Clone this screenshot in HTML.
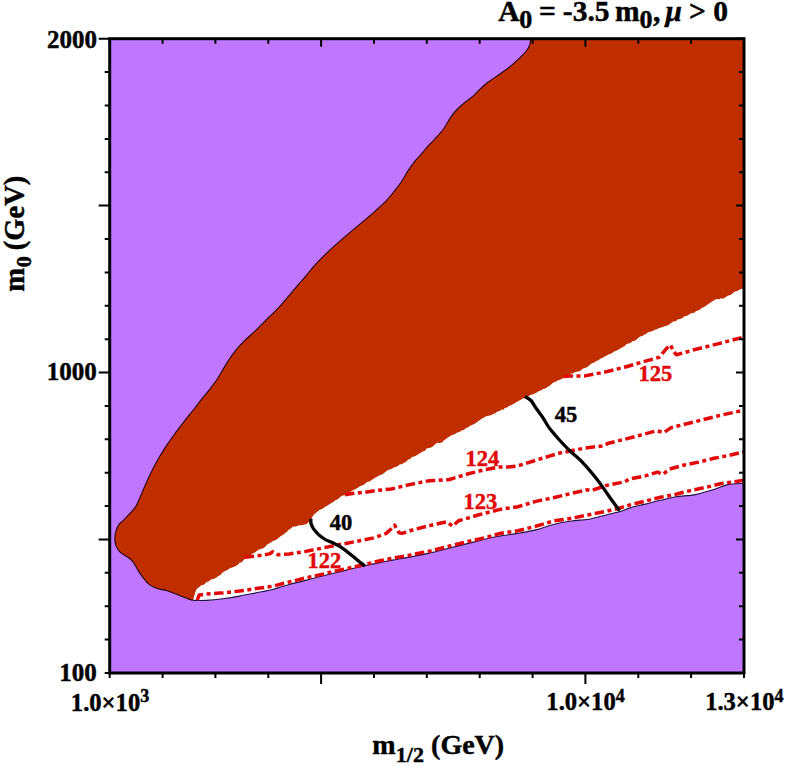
<!DOCTYPE html>
<html><head><meta charset="utf-8"><style>
html,body{margin:0;padding:0;background:#fff;}
svg{display:block;}
text{font-family:"Liberation Serif",serif;font-weight:bold;font-kerning:none;stroke:#000;stroke-width:0.45px;}
</style></head><body>
<svg width="786" height="766" viewBox="0 0 786 766">
<rect x="109.7" y="38.7" width="634.3" height="634.3" fill="#C077FF"/>
<path d="M530.6,38.5C530.5,39.6 530.5,42.8 529.7,45.0C528.9,47.2 527.8,49.2 526.0,51.5C524.2,53.8 521.4,56.2 518.7,58.8C516.0,61.4 513.2,64.1 509.6,67.0C506.0,69.9 500.5,73.5 496.8,76.1C493.1,78.7 490.4,80.4 487.6,82.5C484.9,84.6 482.7,86.6 480.3,88.9C477.9,91.2 475.4,94.1 473.0,96.2C470.6,98.3 468.3,99.6 465.7,101.7C463.1,103.8 459.8,106.7 457.5,109.0C455.2,111.3 453.7,113.1 452.0,115.4C450.3,117.7 448.9,120.3 447.4,122.7C445.9,125.1 445.0,127.2 442.8,130.0C440.6,132.8 437.0,136.5 434.3,139.5C431.6,142.5 428.9,145.1 426.5,147.8C424.1,150.5 422.0,153.3 420.0,155.6C418.0,157.9 416.6,159.0 414.6,161.6C412.6,164.2 409.8,168.0 407.8,171.1C405.8,174.2 404.5,177.0 402.4,180.2C400.3,183.4 397.8,186.8 395.0,190.3C392.2,193.8 389.2,197.7 385.9,201.2C382.5,204.7 378.9,207.8 374.9,211.3C370.9,214.8 366.1,219.0 362.1,222.3C358.2,225.7 355.1,228.1 351.2,231.4C347.2,234.8 342.4,238.9 338.4,242.4C334.4,245.9 331.0,248.9 327.4,252.4C323.8,255.9 319.6,260.1 316.5,263.4C313.4,266.7 311.5,269.1 309.0,272.0C306.5,274.9 304.6,277.4 301.5,281.0C298.4,284.6 294.1,289.5 290.5,293.8C286.9,298.1 283.2,302.7 279.6,306.6C276.0,310.6 272.6,313.6 268.6,317.5C264.6,321.4 259.8,326.5 255.8,330.3C251.8,334.1 248.2,337.0 244.8,340.4C241.5,343.8 238.4,347.0 235.7,350.4C233.0,353.8 230.5,357.3 228.4,360.5C226.3,363.7 224.7,366.6 222.9,369.6C221.1,372.7 219.5,375.6 217.4,378.8C215.3,382.0 212.8,385.3 210.1,388.8C207.4,392.3 203.6,396.5 201.0,399.8C198.4,403.1 197.0,405.3 194.5,408.5C192.0,411.7 188.8,415.4 185.9,419.2C183.0,423.0 179.9,427.0 176.8,431.1C173.8,435.2 170.7,439.3 167.6,443.9C164.5,448.5 161.2,453.8 158.5,458.5C155.8,463.2 153.3,467.9 151.2,472.2C149.1,476.5 147.5,480.0 145.7,484.1C143.9,488.2 141.9,493.1 140.2,496.9C138.5,500.7 137.4,504.0 135.6,506.9C133.8,509.8 131.2,512.0 129.2,514.2C127.2,516.4 125.1,518.7 123.5,520.3C121.9,521.9 120.6,522.2 119.4,523.9C118.2,525.6 116.9,528.0 116.1,530.4C115.3,532.8 114.8,535.7 114.8,538.3C114.8,540.9 115.1,543.7 116.1,546.1C117.1,548.5 118.8,550.8 120.7,552.6C122.7,554.5 125.7,555.7 127.8,557.2C129.9,558.7 131.5,559.7 133.1,561.8C134.7,563.9 136.0,567.0 137.6,569.6C139.2,572.2 140.9,574.9 142.9,577.4C144.9,579.9 147.0,582.8 149.4,584.6C151.8,586.5 154.4,587.5 157.2,588.5C160.0,589.5 163.3,589.6 166.4,590.5C169.5,591.4 172.7,592.7 175.5,593.8C178.3,594.9 180.9,596.0 183.3,597.0C185.7,598.0 188.2,599.1 189.9,599.6C191.6,600.1 192.7,600.2 193.3,600.3C193.9,600.3 194.4,600.5 196.6,600.5C198.8,600.5 202.1,600.7 206.5,600.4C210.9,600.1 217.6,599.4 223.1,598.7C228.6,598.0 234.1,597.1 239.6,596.1C245.1,595.1 250.7,593.9 256.2,592.8C261.7,591.7 267.2,590.9 272.7,589.5C278.2,588.1 283.7,586.0 289.2,584.5C294.7,583.0 300.2,581.8 305.8,580.4C311.4,579.0 317.8,577.3 322.7,576.0C327.6,574.7 331.1,573.9 335.4,572.8C339.6,571.7 343.3,570.8 348.2,569.6C353.1,568.4 359.4,567.0 364.7,565.8C370.0,564.6 375.3,563.5 380.0,562.6C384.7,561.7 387.8,561.0 392.7,560.1C397.6,559.2 403.5,558.3 409.6,557.1C415.7,555.9 422.7,554.6 429.2,553.1C435.7,551.6 442.2,549.9 448.7,548.3C455.2,546.7 461.8,545.0 468.3,543.4C474.8,541.8 482.6,539.7 487.9,538.5C493.2,537.3 495.0,537.0 500.0,536.1C505.0,535.2 511.9,534.4 517.8,533.4C523.7,532.4 529.7,531.4 535.6,529.9C541.5,528.4 547.5,526.0 553.4,524.5C559.3,523.0 565.2,521.9 571.2,521.0C577.2,520.1 583.2,520.2 589.1,519.2C595.0,518.2 601.6,516.0 606.9,514.7C612.2,513.4 617.2,512.3 621.1,511.2C625.0,510.1 626.0,509.1 630.0,507.9C634.0,506.7 640.2,505.4 645.3,504.1C650.4,502.8 655.4,501.5 660.5,500.3C665.6,499.1 669.9,497.8 675.8,496.8C681.6,495.9 689.2,495.8 695.6,494.6C702.0,493.4 708.6,491.2 714.0,489.5C719.4,487.8 722.7,485.6 727.7,484.6C732.7,483.6 741.3,483.5 744.0,483.3L744.0,38.7L530.6,38.7Z" fill="#C02E00"/>
<path d="M193.3,600.3L193.5,598.8L194.1,596.6L195.0,593.4L195.4,591.9L196.5,589.2L198.2,587.8L199.6,586.7L201.2,585.3L203.3,584.9L204.8,583.8L206.7,582.0L208.7,581.5L210.5,579.7L212.9,579.1L214.9,578.4L216.7,577.3L218.4,576.0L220.4,574.9L222.6,572.6L224.1,571.6L226.5,570.6L228.1,569.4L230.0,568.3L232.0,567.4L234.1,566.7L236.0,565.7L238.0,564.7L239.7,562.6L241.5,562.4L243.2,560.6L244.7,559.0L246.3,558.1L247.6,556.3L249.7,556.2L251.1,554.8L253.2,552.9L255.1,552.6L257.4,550.6L259.2,549.5L261.2,548.7L263.3,548.3L265.0,547.1L266.9,544.7L269.0,543.4L270.7,542.6L272.8,541.1L274.5,540.6L276.7,539.4L279.0,537.4L280.6,536.3L282.7,535.0L284.3,533.8L286.3,532.3L287.7,531.1L289.3,529.3L291.3,528.3L292.5,526.8L294.9,526.5L296.7,526.3L299.3,525.3L301.9,525.2L304.6,524.4L306.8,524.1L308.6,522.0L310.5,521.5L311.5,518.4L313.2,515.5L314.5,513.9L316.2,512.7L318.2,511.0L320.2,509.4L322.0,509.2L323.9,507.5L326.3,506.3L327.6,505.4L329.8,503.9L331.4,502.9L333.6,501.8L335.4,500.3L336.9,499.7L339.0,498.2L340.5,496.7L342.5,495.6L344.6,495.2L346.2,493.5L348.7,492.9L350.8,491.6L352.5,490.5L355.0,489.3L356.5,488.5L358.2,487.4L360.3,485.9L361.5,485.8L363.8,484.7L365.3,483.6L367.6,481.7L369.6,481.4L371.6,480.0L373.5,478.8L375.5,477.4L377.5,476.6L379.5,475.2L381.4,474.8L383.2,473.8L384.8,472.4L385.9,471.6L388.1,469.9L390.4,469.2L392.1,468.8L394.1,467.2L395.9,466.9L398.0,465.9L399.9,464.3L401.7,464.2L403.8,462.9L406.4,461.6L408.2,459.4L410.2,459.1L411.9,457.1L414.2,456.4L416.3,455.5L418.5,454.1L420.5,453.0L422.7,451.6L425.1,450.7L426.5,448.6L430.4,447.7L432.8,446.4L435.2,444.2L437.2,442.7L439.4,442.9L442.1,442.4L443.7,440.6L445.7,439.2L447.8,437.6L449.8,436.5L451.3,435.3L453.2,434.8L455.0,433.9L457.3,432.4L460.0,431.7L461.5,430.5L463.7,429.9L466.2,428.1L468.5,427.2L470.0,425.8L471.9,425.0L474.3,423.9L476.5,422.4L478.5,421.1L479.9,420.1L481.9,418.4L484.1,417.4L485.4,416.6L488.0,415.7L489.2,415.7L491.2,414.9L493.5,414.1L495.7,412.9L497.7,411.3L499.8,410.9L501.5,409.6L503.4,409.7L504.9,408.0L507.1,407.6L508.8,405.9L510.6,405.5L512.8,404.3L514.6,403.2L516.6,402.1L518.4,401.0L520.9,399.8L522.7,398.5L524.5,398.2L526.7,396.9L528.6,396.1L530.9,394.7L532.5,394.5L535.0,393.3L536.9,392.6L538.8,391.0L540.9,390.4L543.1,388.9L545.4,388.6L547.3,387.1L549.4,386.0L551.6,383.9L553.4,382.4L555.5,381.7L557.6,380.4L559.8,379.8L561.8,379.1L564.0,377.6L565.8,376.9L567.7,375.5L569.1,374.7L571.2,373.4L573.2,373.3L575.2,371.9L577.3,371.8L580.1,371.1L581.8,369.4L583.1,368.5L584.8,368.0L587.0,367.2L588.5,366.0L590.3,364.4L592.3,363.0L594.0,362.8L596.2,361.0L598.5,360.2L600.2,358.7L602.3,357.9L603.8,357.1L606.7,355.6L608.3,354.4L610.1,354.0L611.7,353.3L614.1,351.4L616.1,350.7L618.0,350.0L619.4,348.9L621.3,348.1L622.9,346.9L625.1,345.8L626.5,344.1L628.6,343.4L630.7,342.8L632.6,341.2L634.7,340.7L636.4,339.7L638.7,337.5L640.9,336.2L642.6,335.7L644.8,334.4L646.8,333.3L648.6,332.0L650.6,331.7L653.0,330.7L655.0,329.8L656.8,329.2L659.3,328.0L661.1,327.5L663.3,326.8L665.1,325.9L667.3,325.4L669.2,324.5L671.0,322.9L673.2,321.6L675.8,321.2L677.6,319.4L679.9,319.0L682.0,318.2L683.7,316.7L685.5,315.9L687.5,315.6L689.4,314.2L691.7,313.0L693.7,313.0L695.9,311.2L697.8,310.4L699.8,309.7L701.6,308.0L703.9,306.9L705.6,306.1L707.0,305.0L709.2,303.6L711.0,302.3L712.8,301.1L714.6,299.9L716.8,298.9L718.9,299.2L721.1,298.3L723.0,298.7L725.2,297.4L728.0,295.5L730.1,295.3L731.9,293.9L734.4,291.7L736.4,291.3L738.6,290.3L740.8,288.9L742.8,288.7L744.0,287.5L744.0,483.3C741.3,483.5 732.7,483.6 727.7,484.6C722.7,485.6 719.4,487.8 714.0,489.5C708.6,491.2 702.0,493.4 695.6,494.6C689.2,495.8 681.6,495.9 675.8,496.8C669.9,497.8 665.6,499.1 660.5,500.3C655.4,501.5 650.4,502.8 645.3,504.1C640.2,505.4 634.0,506.7 630.0,507.9C626.0,509.1 625.0,510.1 621.1,511.2C617.2,512.3 612.2,513.4 606.9,514.7C601.6,516.0 595.0,518.2 589.1,519.2C583.2,520.2 577.2,520.1 571.2,521.0C565.2,521.9 559.3,523.0 553.4,524.5C547.5,526.0 541.5,528.4 535.6,529.9C529.7,531.4 523.7,532.4 517.8,533.4C511.9,534.4 505.0,535.2 500.0,536.1C495.0,537.0 493.2,537.3 487.9,538.5C482.6,539.7 474.8,541.8 468.3,543.4C461.8,545.0 455.2,546.7 448.7,548.3C442.2,549.9 435.7,551.6 429.2,553.1C422.7,554.6 415.7,555.9 409.6,557.1C403.5,558.3 397.6,559.2 392.7,560.1C387.8,561.0 384.7,561.7 380.0,562.6C375.3,563.5 370.0,564.6 364.7,565.8C359.4,567.0 353.1,568.4 348.2,569.6C343.3,570.8 339.6,571.7 335.4,572.8C331.1,573.9 327.6,574.7 322.7,576.0C317.8,577.3 311.4,579.0 305.8,580.4C300.2,581.8 294.7,583.0 289.2,584.5C283.7,586.0 278.2,588.1 272.7,589.5C267.2,590.9 261.7,591.7 256.2,592.8C250.7,593.9 245.1,595.1 239.6,596.1C234.1,597.1 228.6,598.0 223.1,598.7C217.6,599.4 210.9,600.1 206.5,600.4C202.1,600.7 198.8,600.5 196.6,600.5C194.4,600.5 193.9,600.3 193.3,600.3Z" fill="#fff"/>
<path d="M530.6,38.5C530.5,39.6 530.5,42.8 529.7,45.0C528.9,47.2 527.8,49.2 526.0,51.5C524.2,53.8 521.4,56.2 518.7,58.8C516.0,61.4 513.2,64.1 509.6,67.0C506.0,69.9 500.5,73.5 496.8,76.1C493.1,78.7 490.4,80.4 487.6,82.5C484.9,84.6 482.7,86.6 480.3,88.9C477.9,91.2 475.4,94.1 473.0,96.2C470.6,98.3 468.3,99.6 465.7,101.7C463.1,103.8 459.8,106.7 457.5,109.0C455.2,111.3 453.7,113.1 452.0,115.4C450.3,117.7 448.9,120.3 447.4,122.7C445.9,125.1 445.0,127.2 442.8,130.0C440.6,132.8 437.0,136.5 434.3,139.5C431.6,142.5 428.9,145.1 426.5,147.8C424.1,150.5 422.0,153.3 420.0,155.6C418.0,157.9 416.6,159.0 414.6,161.6C412.6,164.2 409.8,168.0 407.8,171.1C405.8,174.2 404.5,177.0 402.4,180.2C400.3,183.4 397.8,186.8 395.0,190.3C392.2,193.8 389.2,197.7 385.9,201.2C382.5,204.7 378.9,207.8 374.9,211.3C370.9,214.8 366.1,219.0 362.1,222.3C358.2,225.7 355.1,228.1 351.2,231.4C347.2,234.8 342.4,238.9 338.4,242.4C334.4,245.9 331.0,248.9 327.4,252.4C323.8,255.9 319.6,260.1 316.5,263.4C313.4,266.7 311.5,269.1 309.0,272.0C306.5,274.9 304.6,277.4 301.5,281.0C298.4,284.6 294.1,289.5 290.5,293.8C286.9,298.1 283.2,302.7 279.6,306.6C276.0,310.6 272.6,313.6 268.6,317.5C264.6,321.4 259.8,326.5 255.8,330.3C251.8,334.1 248.2,337.0 244.8,340.4C241.5,343.8 238.4,347.0 235.7,350.4C233.0,353.8 230.5,357.3 228.4,360.5C226.3,363.7 224.7,366.6 222.9,369.6C221.1,372.7 219.5,375.6 217.4,378.8C215.3,382.0 212.8,385.3 210.1,388.8C207.4,392.3 203.6,396.5 201.0,399.8C198.4,403.1 197.0,405.3 194.5,408.5C192.0,411.7 188.8,415.4 185.9,419.2C183.0,423.0 179.9,427.0 176.8,431.1C173.8,435.2 170.7,439.3 167.6,443.9C164.5,448.5 161.2,453.8 158.5,458.5C155.8,463.2 153.3,467.9 151.2,472.2C149.1,476.5 147.5,480.0 145.7,484.1C143.9,488.2 141.9,493.1 140.2,496.9C138.5,500.7 137.4,504.0 135.6,506.9C133.8,509.8 131.2,512.0 129.2,514.2C127.2,516.4 125.1,518.7 123.5,520.3C121.9,521.9 120.6,522.2 119.4,523.9C118.2,525.6 116.9,528.0 116.1,530.4C115.3,532.8 114.8,535.7 114.8,538.3C114.8,540.9 115.1,543.7 116.1,546.1C117.1,548.5 118.8,550.8 120.7,552.6C122.7,554.5 125.7,555.7 127.8,557.2C129.9,558.7 131.5,559.7 133.1,561.8C134.7,563.9 136.0,567.0 137.6,569.6C139.2,572.2 140.9,574.9 142.9,577.4C144.9,579.9 147.0,582.8 149.4,584.6C151.8,586.5 154.4,587.5 157.2,588.5C160.0,589.5 163.3,589.6 166.4,590.5C169.5,591.4 172.7,592.7 175.5,593.8C178.3,594.9 180.9,596.0 183.3,597.0C185.7,598.0 188.2,599.1 189.9,599.6C191.6,600.1 192.7,600.2 193.3,600.3" fill="none" stroke="#2a0010" stroke-width="1.1"/>
<path d="M193.3,600.3C193.9,600.3 194.4,600.5 196.6,600.5C198.8,600.5 202.1,600.7 206.5,600.4C210.9,600.1 217.6,599.4 223.1,598.7C228.6,598.0 234.1,597.1 239.6,596.1C245.1,595.1 250.7,593.9 256.2,592.8C261.7,591.7 267.2,590.9 272.7,589.5C278.2,588.1 283.7,586.0 289.2,584.5C294.7,583.0 300.2,581.8 305.8,580.4C311.4,579.0 317.8,577.3 322.7,576.0C327.6,574.7 331.1,573.9 335.4,572.8C339.6,571.7 343.3,570.8 348.2,569.6C353.1,568.4 359.4,567.0 364.7,565.8C370.0,564.6 375.3,563.5 380.0,562.6C384.7,561.7 387.8,561.0 392.7,560.1C397.6,559.2 403.5,558.3 409.6,557.1C415.7,555.9 422.7,554.6 429.2,553.1C435.7,551.6 442.2,549.9 448.7,548.3C455.2,546.7 461.8,545.0 468.3,543.4C474.8,541.8 482.6,539.7 487.9,538.5C493.2,537.3 495.0,537.0 500.0,536.1C505.0,535.2 511.9,534.4 517.8,533.4C523.7,532.4 529.7,531.4 535.6,529.9C541.5,528.4 547.5,526.0 553.4,524.5C559.3,523.0 565.2,521.9 571.2,521.0C577.2,520.1 583.2,520.2 589.1,519.2C595.0,518.2 601.6,516.0 606.9,514.7C612.2,513.4 617.2,512.3 621.1,511.2C625.0,510.1 626.0,509.1 630.0,507.9C634.0,506.7 640.2,505.4 645.3,504.1C650.4,502.8 655.4,501.5 660.5,500.3C665.6,499.1 669.9,497.8 675.8,496.8C681.6,495.9 689.2,495.8 695.6,494.6C702.0,493.4 708.6,491.2 714.0,489.5C719.4,487.8 722.7,485.6 727.7,484.6C732.7,483.6 741.3,483.5 744.0,483.3" fill="none" stroke="#1a1040" stroke-width="1.1"/>
<path d="M197.2,600.2L199.2,595.0L206.5,594.0L223.1,592.8L239.6,591.1L256.2,588.6L272.7,586.2L289.2,582.0L305.8,577.9L322.7,574.1L335.4,570.9L348.2,568.3L364.7,564.5L380.0,560.7L392.7,558.2L409.6,555.1L429.2,551.2L448.7,546.3L468.3,541.4L487.9,537.0L500.0,533.4L517.8,530.8L535.6,526.3L553.4,521.0L571.2,518.3L589.1,514.7L606.9,511.2L621.1,507.6L630.0,504.9L645.3,501.1L660.5,497.3L675.8,494.2L691.1,490.4L706.3,487.3L721.6,483.5L744.0,480.3" fill="none" stroke="#E20808" stroke-width="3.5" stroke-dasharray="9.5 3.5 4 3.5" stroke-linejoin="round"/>
<path d="M244.6,557.2L259.5,555.6L269.4,553.9L272.7,551.8L277.7,554.7L289.2,553.9L305.8,551.4L322.7,548.0L335.4,545.4L348.2,543.0L360.9,540.5L373.6,537.9L386.3,533.4L391.0,529.0L394.6,525.2L399.0,532.7L402.0,533.4L413.5,529.7L429.2,525.7L446.8,521.8L452.7,526.2L458.5,520.8L478.1,515.0L500.0,509.4L517.8,506.7L535.6,501.4L553.4,497.8L571.2,493.4L587.3,489.8L590.8,490.7L606.9,485.3L624.7,481.8L630.0,478.9L645.3,475.9L657.5,472.1L662.8,474.4L669.7,469.0L683.4,465.2L698.7,462.1L714.0,458.3L729.2,455.3L744.0,451.8" fill="none" stroke="#E20808" stroke-width="3.5" stroke-dasharray="9.5 3.5 4 3.5" stroke-linejoin="round"/>
<path d="M345.0,494.8L352.2,493.5L365.3,492.2L378.3,490.3L391.4,489.0L409.6,484.6L429.2,480.7L448.7,479.7L468.3,473.8L484.0,469.9L499.7,467.0L507.5,467.0L517.3,466.0L530.0,462.1L549.3,456.1L560.0,453.0L584.2,448.2L603.5,445.8L608.3,443.3L632.5,437.3L656.7,430.8L663.9,432.5L671.2,427.6L695.4,421.6L719.5,415.5L744.0,410.2" fill="none" stroke="#E20808" stroke-width="3.5" stroke-dasharray="9.5 3.5 4 3.5" stroke-linejoin="round"/>
<path d="M563.5,376.6L569.9,375.9L584.8,375.9L604.6,372.1L624.5,367.2L641.8,362.2L659.2,357.3L665.4,349.8L670.4,344.9L674.1,352.3L676.6,354.8L694.0,349.8L718.8,343.6L744.0,337.0" fill="none" stroke="#E20808" stroke-width="3.5" stroke-dasharray="9.5 3.5 4 3.5" stroke-linejoin="round"/>
<path d="M310.9,518.8C310.9,519.6 310.6,521.9 311.0,523.5C311.4,525.1 312.4,527.0 313.3,528.5C314.2,530.0 315.4,531.3 316.5,532.5C317.6,533.7 318.4,534.6 319.9,535.8C321.4,537.0 323.4,538.5 325.5,539.6C327.6,540.7 329.8,541.4 332.3,542.6C334.8,543.8 337.4,544.8 340.6,546.9C343.8,549.0 348.4,552.7 351.3,555.0C354.2,557.3 355.8,558.8 358.0,560.6C360.2,562.4 363.7,565.1 364.8,566.0" fill="none" stroke="#000" stroke-width="3.3"/>
<path d="M525.0,396.6C526.0,397.2 529.0,398.6 530.9,400.5C532.8,402.4 534.1,405.5 536.1,408.3C538.1,411.1 540.5,414.1 542.7,417.4C544.9,420.7 547.0,424.8 549.2,427.9C551.4,430.9 553.3,432.9 555.7,435.7C558.1,438.5 561.0,441.7 563.6,444.5C566.2,447.3 568.5,449.5 571.6,452.5C574.8,455.5 578.2,457.8 582.5,462.4C586.8,466.9 593.1,474.5 597.3,479.8C601.5,485.1 603.9,489.0 607.6,494.2C611.3,499.4 617.5,508.0 619.5,510.8" fill="none" stroke="#000" stroke-width="3.3"/>
<text><tspan x="329.69" y="530.48" font-size="22.5">40</tspan></text>
<text><tspan x="554.79" y="422.48" font-size="22.5">45</tspan></text>
<text fill="#E20808" style="stroke:#E20808"><tspan x="307.40" y="567.60" font-size="22.5">122</tspan></text>
<text fill="#E20808" style="stroke:#E20808"><tspan x="463.50" y="508.88" font-size="22.5">123</tspan></text>
<text fill="#E20808" style="stroke:#E20808"><tspan x="465.40" y="466.40" font-size="22.5">124</tspan></text>
<text fill="#E20808" style="stroke:#E20808"><tspan x="638.40" y="380.58" font-size="22.5">125</tspan></text>
<path d="M109.7,673.0V678.0M109.7,38.7V43.7M162.6,673.0V678.0M162.6,38.7V43.7M215.4,673.0V678.0M215.4,38.7V43.7M268.3,673.0V678.0M268.3,38.7V43.7M321.1,673.0V684.0M321.1,38.7V46.7M374.0,673.0V678.0M374.0,38.7V43.7M426.8,673.0V678.0M426.8,38.7V43.7M479.7,673.0V678.0M479.7,38.7V43.7M532.6,673.0V678.0M532.6,38.7V43.7M585.4,673.0V684.0M585.4,38.7V46.7M638.3,673.0V678.0M638.3,38.7V43.7M691.1,673.0V678.0M691.1,38.7V43.7M744.0,673.0V678.0M744.0,38.7V43.7M109.7,673.0H104.7M744.0,673.0H739.0M109.7,639.6H104.7M744.0,639.6H739.0M109.7,606.2H104.7M744.0,606.2H739.0M109.7,572.8H104.7M744.0,572.8H739.0M109.7,539.5H98.7M744.0,539.5H736.0M109.7,506.1H104.7M744.0,506.1H739.0M109.7,472.7H104.7M744.0,472.7H739.0M109.7,439.3H104.7M744.0,439.3H739.0M109.7,405.9H104.7M744.0,405.9H739.0M109.7,372.5H98.7M744.0,372.5H736.0M109.7,339.2H104.7M744.0,339.2H739.0M109.7,305.8H104.7M744.0,305.8H739.0M109.7,272.4H104.7M744.0,272.4H739.0M109.7,239.0H104.7M744.0,239.0H739.0M109.7,205.6H98.7M744.0,205.6H736.0M109.7,172.2H104.7M744.0,172.2H739.0M109.7,138.9H104.7M744.0,138.9H739.0M109.7,105.5H104.7M744.0,105.5H739.0M109.7,72.1H104.7M744.0,72.1H739.0M109.7,38.7H98.7M744.0,38.7H736.0" stroke="#000" stroke-width="2" fill="none"/>
<rect x="109.7" y="38.7" width="634.3" height="634.3" fill="none" stroke="#000" stroke-width="3"/>
<text><tspan x="47.05" y="48.06" font-size="25">2000</tspan></text>
<text><tspan x="46.75" y="379.56" font-size="25">1000</tspan></text>
<text><tspan x="59.15" y="680.66" font-size="25">100</tspan></text>
<text><tspan x="70.83" y="710.50" font-size="24.6">1.0×10</tspan><tspan x="140.20" y="701.90" font-size="18">3</tspan></text>
<text><tspan x="546.33" y="710.40" font-size="24.6">1.0×10</tspan><tspan x="615.70" y="701.80" font-size="18">4</tspan></text>
<text><tspan x="705.13" y="710.10" font-size="24.6">1.3×10</tspan><tspan x="774.50" y="701.50" font-size="18">4</tspan></text>
<text><tspan x="372.35" y="753.90" font-size="28">m</tspan><tspan x="395.84" y="761.50" font-size="22">1/2</tspan><tspan x="431.07" y="753.90" font-size="28">(GeV)</tspan></text>
<g transform="translate(24,291) rotate(-90)"><text><tspan x="-0.77" y="0.00" font-size="28.5">m</tspan><tspan x="23.66" y="6.60" font-size="22">0</tspan><tspan x="40.87" y="0.00" font-size="28.5">(GeV)</tspan></text></g>
<text><tspan x="498.31" y="20.60" font-size="29.5">A</tspan><tspan x="519.25" y="28.25" font-size="26">0</tspan><tspan x="539.07" y="20.60" font-size="29.5">=</tspan><tspan x="562.82" y="20.60" font-size="29.5">-3.5</tspan><tspan x="615.02" y="20.60" font-size="29.5">m</tspan><tspan x="639.45" y="28.05" font-size="26">0</tspan><tspan x="652.93" y="20.60" font-size="29.5">,</tspan><tspan x="665.46" y="20.60" font-size="29.5" font-style="italic">μ</tspan><tspan x="689.10" y="20.60" font-size="29.5">&gt;</tspan><tspan x="713.27" y="20.60" font-size="29.5">0</tspan></text>
</svg>
</body></html>
